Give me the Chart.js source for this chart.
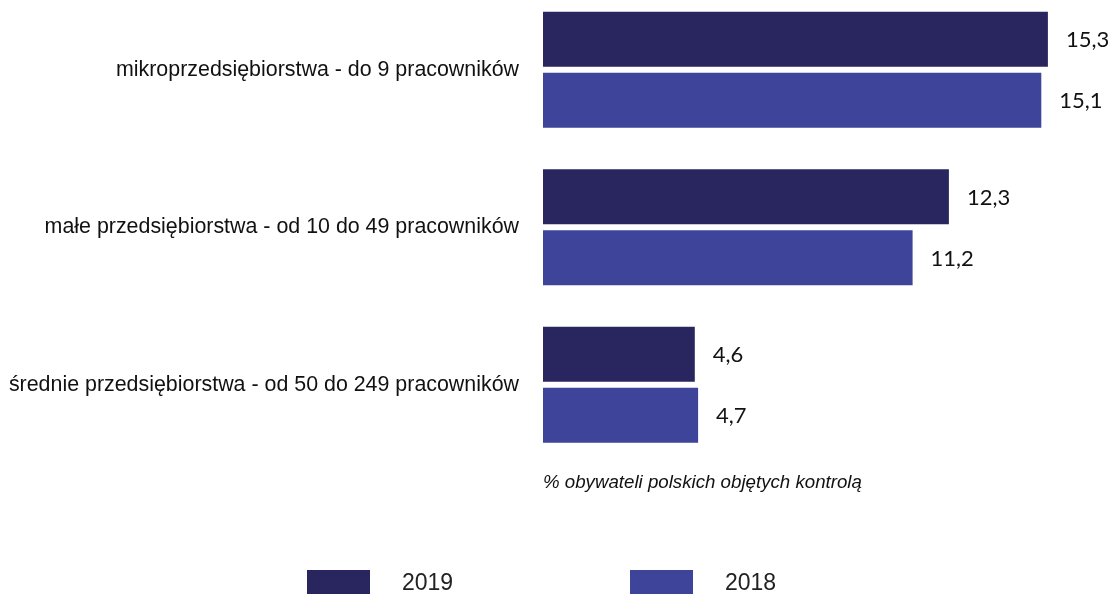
<!DOCTYPE html>
<html>
<head>
<meta charset="utf-8">
<script src="https://cdn.jsdelivr.net/npm/chart.js@4.4.1/dist/chart.umd.min.js"></script>
<style>
  html, body { margin: 0; padding: 0; background: #ffffff; }
  #wrap { position: relative; width: 1114px; height: 594px; overflow: hidden; }
  #c { position: absolute; left: 0; top: -9px; }
</style>
</head>
<body>
<div id="wrap"><canvas id="c" width="1114" height="603"></canvas></div>
<script>
const categories = [
  "mikroprzedsiębiorstwa - do 9 pracowników",
  "małe przedsiębiorstwa - od 10 do 49 pracowników",
  "średnie przedsiębiorstwa - od 50 do 249 pracowników"
];
const series2019 = [15.3, 12.3, 4.6];
const series2018 = [15.1, 11.2, 4.7];
const seriesNames = ["2019", "2018"];
const axisTitle = "% obywateli polskich objętych kontrolą";

const COLOR_2019 = "#29265f";
const COLOR_2018 = "#3d4499";

const valueLabels = {
  id: "valueLabels",
  afterDatasetsDraw(chart) {
    const ctx = chart.ctx;
    ctx.save();
    ctx.font = "22px Lato, 'Open Sans', sans-serif";
    ctx.fillStyle = "#111111";
    ctx.textAlign = "left";
    ctx.textBaseline = "middle";
    chart.data.datasets.forEach((ds, di) => {
      const meta = chart.getDatasetMeta(di);
      meta.data.forEach((bar, i) => {
        const txt = String(ds.data[i]).replace(".", ",");
        ctx.fillText(txt, bar.x + 18, bar.y + 1);
      });
    });
    ctx.restore();
  }
};

const customLegend = {
  id: "customLegend",
  afterDraw(chart) {
    const ctx = chart.ctx;
    const boxX = [307, 630];
    ctx.save();
    ctx.font = "23px 'Liberation Sans', Arial, sans-serif";
    ctx.textAlign = "left";
    ctx.textBaseline = "middle";
    chart.data.datasets.forEach((ds, di) => {
      ctx.fillStyle = ds.backgroundColor;
      ctx.fillRect(boxX[di], 579, 63, 26);
      ctx.fillStyle = "#222222";
      ctx.fillText(ds.label, boxX[di] + 95, 593);
    });
    ctx.restore();
  }
};

new Chart(document.getElementById("c"), {
  type: "bar",
  data: {
    labels: categories,
    datasets: [
      { label: seriesNames[0], data: series2019, backgroundColor: COLOR_2019 },
      { label: seriesNames[1], data: series2018, backgroundColor: COLOR_2018 }
    ]
  },
  options: {
    indexAxis: "y",
    responsive: false,
    animation: false,
    devicePixelRatio: 1,
    categoryPercentage: 0.774,
    barPercentage: 0.9016,
    layout: { padding: { top: 0, bottom: 90, left: 0, right: 10 } },
    plugins: {
      legend: { display: false },
      tooltip: { enabled: false }
    },
    scales: {
      x: {
        min: 0,
        max: 17,
        grid: { display: false, drawTicks: false },
        border: { display: false },
        ticks: { display: false },
        title: {
          display: true,
          text: axisTitle,
          align: "start",
          color: "#111111",
          font: { family: "'Liberation Sans', Arial, sans-serif", size: 18.7, style: "italic" },
          padding: { top: 8, bottom: 10 }
        },
        afterFit(scale) { scale.paddingLeft = 0; scale.paddingRight = 0; }
      },
      y: {
        grid: { display: false, drawTicks: false },
        border: { display: false },
        ticks: {
          color: "#111111",
          padding: 24,
          font: { family: "'Liberation Sans', Arial, sans-serif", size: 21.4 }
        },
        afterFit(scale) {
          scale.width = 543;
          scale.paddingTop = 0;
          scale.paddingBottom = 0;
        }
      }
    }
  },
  plugins: [valueLabels, customLegend]
});
</script>
</body>
</html>
